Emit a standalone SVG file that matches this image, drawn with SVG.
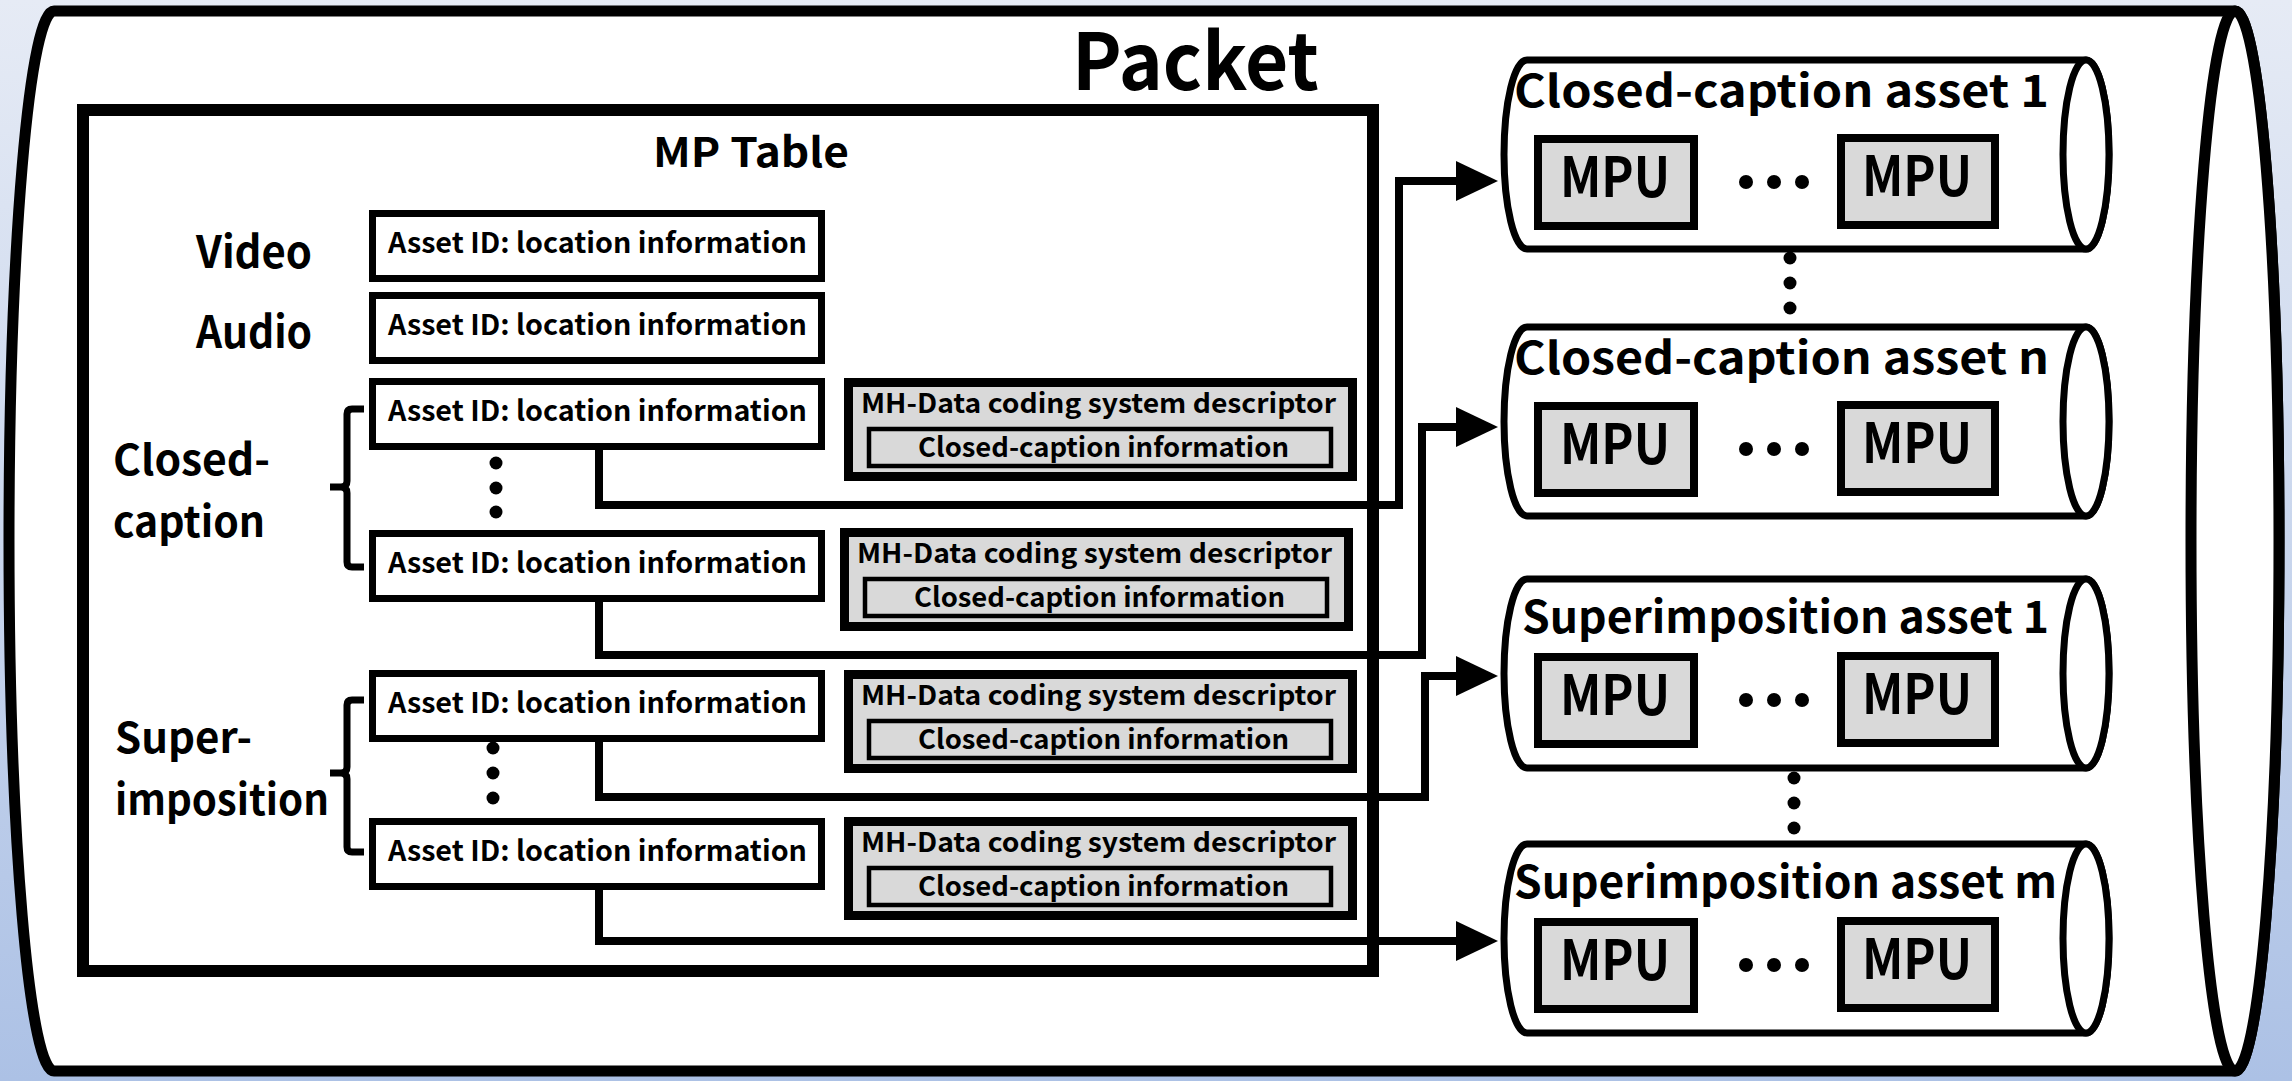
<svg xmlns="http://www.w3.org/2000/svg" width="2292" height="1081" viewBox="0 0 2292 1081">
  <defs>
    <linearGradient id="bg" x1="0" y1="0" x2="0" y2="1">
      <stop offset="0" stop-color="#e6ebf5"/>
      <stop offset="1" stop-color="#acc1e5"/>
    </linearGradient>
    <style>
      .t { font-family: 'Noto Sans CJK JP', 'Noto Sans', sans-serif; font-weight: 700; fill: #000; }
      .asset { fill: #fff; stroke: #000; stroke-width: 7; }
      .desc { fill: #d9d9d9; stroke: #000; stroke-width: 9; }
      .desc-in { fill: #d9d9d9; stroke: #000; stroke-width: 4.5; }
      .cyl { fill: #fff; stroke: #000; stroke-width: 7; }
      .mpu { fill: #d9d9d9; stroke: #000; stroke-width: 8; }
      .brace { fill: none; stroke: #000; stroke-width: 7; stroke-linejoin: miter; }
      .wire { fill: none; stroke: #000; stroke-width: 8; stroke-linejoin: miter; stroke-linecap: butt; }
      .dot { fill: #000; }
    </style>
  </defs>

  <!-- backdrop -->
  <rect x="0" y="0" width="2292" height="1081" fill="url(#bg)"/>

  <!-- Packet: horizontal can shape -->
  <g id="packet">
    <path d="M54,11 H2235 A44,530 0 0 1 2235,1071 H54 A45,530 0 0 1 54,11 Z" fill="#fff" stroke="#000" stroke-width="11"/>
    <ellipse cx="2235" cy="541" rx="44" ry="530" fill="#fff" stroke="#000" stroke-width="11"/>
    <text class="t" x="1072" y="90" font-size="78" textLength="247" lengthAdjust="spacingAndGlyphs">Packet</text>
  </g>

  <!-- MP Table frame -->
  <g id="mp-table">
    <rect x="83" y="110" width="1290" height="861" fill="none" stroke="#000" stroke-width="12"/>
    <text class="t" x="653" y="167" font-size="41" textLength="196" lengthAdjust="spacingAndGlyphs">MP Table</text>
  </g>

  <!-- row labels -->
  <g id="labels">
    <text class="t" x="196" y="268" font-size="44" textLength="116" lengthAdjust="spacingAndGlyphs">Video</text>
    <text class="t" x="196" y="348" font-size="44" textLength="116" lengthAdjust="spacingAndGlyphs">Audio</text>
    <text class="t" x="113" y="475" font-size="42" textLength="157" lengthAdjust="spacingAndGlyphs">Closed-</text>
    <text class="t" x="113" y="537" font-size="42" textLength="152" lengthAdjust="spacingAndGlyphs">caption</text>
    <text class="t" x="115" y="753" font-size="42" textLength="137" lengthAdjust="spacingAndGlyphs">Super-</text>
    <text class="t" x="115" y="815" font-size="42" textLength="214" lengthAdjust="spacingAndGlyphs">imposition</text>
  </g>

  <!-- braces grouping the closed-caption and superimposition rows -->
  <g id="braces">
    <path class="brace" d="M364,409 H352 Q347,409 347,414 V481 Q347,487 341,487 H330 M341,487 Q347,487 347,493 V562 Q347,567 352,567 H364"/>
    <path class="brace" d="M364,700 H352 Q347,700 347,705 V767 Q347,773 341,773 H330 M341,773 Q347,773 347,779 V847 Q347,852 352,852 H364"/>
  </g>

  <!-- asset location entries -->
  <g id="asset-video" transform="translate(369,210)">
    <rect class="asset" x="3.5" y="3.5" width="449" height="65"/>
    <text class="t" x="19" y="43" font-size="28" textLength="419" lengthAdjust="spacingAndGlyphs">Asset ID: location information</text>
  </g>
  <g id="asset-audio" transform="translate(369,292)">
    <rect class="asset" x="3.5" y="3.5" width="449" height="65"/>
    <text class="t" x="19" y="43" font-size="28" textLength="419" lengthAdjust="spacingAndGlyphs">Asset ID: location information</text>
  </g>
  <g id="asset-cc-1" transform="translate(369,378)">
    <rect class="asset" x="3.5" y="3.5" width="449" height="65"/>
    <text class="t" x="19" y="43" font-size="28" textLength="419" lengthAdjust="spacingAndGlyphs">Asset ID: location information</text>
  </g>
  <g id="asset-cc-n" transform="translate(369,530)">
    <rect class="asset" x="3.5" y="3.5" width="449" height="65"/>
    <text class="t" x="19" y="43" font-size="28" textLength="419" lengthAdjust="spacingAndGlyphs">Asset ID: location information</text>
  </g>
  <g id="asset-si-1" transform="translate(369,670)">
    <rect class="asset" x="3.5" y="3.5" width="449" height="65"/>
    <text class="t" x="19" y="43" font-size="28" textLength="419" lengthAdjust="spacingAndGlyphs">Asset ID: location information</text>
  </g>
  <g id="asset-si-m" transform="translate(369,818)">
    <rect class="asset" x="3.5" y="3.5" width="449" height="65"/>
    <text class="t" x="19" y="43" font-size="28" textLength="419" lengthAdjust="spacingAndGlyphs">Asset ID: location information</text>
  </g>

  <!-- vertical ellipsis dots between entries -->
  <g id="entry-dots">
    <circle class="dot" cx="496" cy="463" r="6.5"/>
    <circle class="dot" cx="496" cy="488" r="6.5"/>
    <circle class="dot" cx="496" cy="512" r="6.5"/>
    <circle class="dot" cx="493" cy="748" r="6.5"/>
    <circle class="dot" cx="493" cy="773" r="6.5"/>
    <circle class="dot" cx="493" cy="798" r="6.5"/>
  </g>

  <!-- data coding system descriptors -->
  <g id="desc-cc-1" transform="translate(844,378)">
    <rect class="desc" x="4.5" y="4.5" width="504" height="94"/>
    <rect class="desc-in" x="25" y="51" width="462" height="37"/>
    <text class="t" x="17" y="35" font-size="27" textLength="475" lengthAdjust="spacingAndGlyphs">MH-Data coding system descriptor</text>
    <text class="t" x="74" y="79" font-size="27" textLength="371" lengthAdjust="spacingAndGlyphs">Closed-caption information</text>
  </g>
  <g id="desc-cc-n" transform="translate(840,528)">
    <rect class="desc" x="4.5" y="4.5" width="504" height="94"/>
    <rect class="desc-in" x="25" y="51" width="462" height="37"/>
    <text class="t" x="17" y="35" font-size="27" textLength="475" lengthAdjust="spacingAndGlyphs">MH-Data coding system descriptor</text>
    <text class="t" x="74" y="79" font-size="27" textLength="371" lengthAdjust="spacingAndGlyphs">Closed-caption information</text>
  </g>
  <g id="desc-si-1" transform="translate(844,670)">
    <rect class="desc" x="4.5" y="4.5" width="504" height="94"/>
    <rect class="desc-in" x="25" y="51" width="462" height="37"/>
    <text class="t" x="17" y="35" font-size="27" textLength="475" lengthAdjust="spacingAndGlyphs">MH-Data coding system descriptor</text>
    <text class="t" x="74" y="79" font-size="27" textLength="371" lengthAdjust="spacingAndGlyphs">Closed-caption information</text>
  </g>
  <g id="desc-si-m" transform="translate(844,817)">
    <rect class="desc" x="4.5" y="4.5" width="504" height="94"/>
    <rect class="desc-in" x="25" y="51" width="462" height="37"/>
    <text class="t" x="17" y="35" font-size="27" textLength="475" lengthAdjust="spacingAndGlyphs">MH-Data coding system descriptor</text>
    <text class="t" x="74" y="79" font-size="27" textLength="371" lengthAdjust="spacingAndGlyphs">Closed-caption information</text>
  </g>

  <!-- asset streams (horizontal cans holding MPUs) -->
  <g id="stream-cc-1" transform="translate(0,60)">
    <path class="cyl" d="M1527,0 H2086 A23,94.5 0 0 1 2086,189 H1527 A23,94.5 0 0 1 1527,0 Z"/>
    <ellipse class="cyl" cx="2086" cy="94.5" rx="23" ry="94.5"/>
    <text class="t" x="1514" y="47" font-size="44" textLength="535" lengthAdjust="spacingAndGlyphs">Closed-caption asset 1</text>
    <rect class="mpu" x="1538" y="79" width="156" height="87"/>
    <rect class="mpu" x="1841" y="78" width="154" height="87"/>
    <text class="t" x="1560" y="137" font-size="56" textLength="110" lengthAdjust="spacingAndGlyphs">MPU</text>
    <text class="t" x="1862" y="136" font-size="56" textLength="110" lengthAdjust="spacingAndGlyphs">MPU</text>
    <circle class="dot" cx="1746" cy="122" r="7"/>
    <circle class="dot" cx="1774" cy="122" r="7"/>
    <circle class="dot" cx="1802" cy="122" r="7"/>
  </g>
  <g id="stream-cc-n" transform="translate(0,327)">
    <path class="cyl" d="M1527,0 H2086 A23,94.5 0 0 1 2086,189 H1527 A23,94.5 0 0 1 1527,0 Z"/>
    <ellipse class="cyl" cx="2086" cy="94.5" rx="23" ry="94.5"/>
    <text class="t" x="1514" y="47" font-size="44" textLength="535" lengthAdjust="spacingAndGlyphs">Closed-caption asset n</text>
    <rect class="mpu" x="1538" y="79" width="156" height="87"/>
    <rect class="mpu" x="1841" y="78" width="154" height="87"/>
    <text class="t" x="1560" y="137" font-size="56" textLength="110" lengthAdjust="spacingAndGlyphs">MPU</text>
    <text class="t" x="1862" y="136" font-size="56" textLength="110" lengthAdjust="spacingAndGlyphs">MPU</text>
    <circle class="dot" cx="1746" cy="122" r="7"/>
    <circle class="dot" cx="1774" cy="122" r="7"/>
    <circle class="dot" cx="1802" cy="122" r="7"/>
  </g>
  <g id="stream-si-1" transform="translate(0,579)">
    <path class="cyl" d="M1527,0 H2086 A23,94.5 0 0 1 2086,189 H1527 A23,94.5 0 0 1 1527,0 Z"/>
    <ellipse class="cyl" cx="2086" cy="94.5" rx="23" ry="94.5"/>
    <text class="t" x="1522" y="54" font-size="44" textLength="527" lengthAdjust="spacingAndGlyphs">Superimposition asset 1</text>
    <rect class="mpu" x="1538" y="78" width="156" height="87"/>
    <rect class="mpu" x="1841" y="77" width="154" height="87"/>
    <text class="t" x="1560" y="136" font-size="56" textLength="110" lengthAdjust="spacingAndGlyphs">MPU</text>
    <text class="t" x="1862" y="135" font-size="56" textLength="110" lengthAdjust="spacingAndGlyphs">MPU</text>
    <circle class="dot" cx="1746" cy="121" r="7"/>
    <circle class="dot" cx="1774" cy="121" r="7"/>
    <circle class="dot" cx="1802" cy="121" r="7"/>
  </g>
  <g id="stream-si-m" transform="translate(0,844)">
    <path class="cyl" d="M1527,0 H2086 A23,94.5 0 0 1 2086,189 H1527 A23,94.5 0 0 1 1527,0 Z"/>
    <ellipse class="cyl" cx="2086" cy="94.5" rx="23" ry="94.5"/>
    <text class="t" x="1514" y="54" font-size="44" textLength="543" lengthAdjust="spacingAndGlyphs">Superimposition asset m</text>
    <rect class="mpu" x="1538" y="78" width="156" height="87"/>
    <rect class="mpu" x="1841" y="77" width="154" height="87"/>
    <text class="t" x="1560" y="136" font-size="56" textLength="110" lengthAdjust="spacingAndGlyphs">MPU</text>
    <text class="t" x="1862" y="135" font-size="56" textLength="110" lengthAdjust="spacingAndGlyphs">MPU</text>
    <circle class="dot" cx="1746" cy="121" r="7"/>
    <circle class="dot" cx="1774" cy="121" r="7"/>
    <circle class="dot" cx="1802" cy="121" r="7"/>
  </g>

  <!-- vertical ellipsis dots between streams -->
  <g id="stream-dots">
    <circle class="dot" cx="1790" cy="258" r="6.5"/>
    <circle class="dot" cx="1790" cy="283" r="6.5"/>
    <circle class="dot" cx="1790" cy="308" r="6.5"/>
    <circle class="dot" cx="1794" cy="778" r="6.5"/>
    <circle class="dot" cx="1794" cy="803" r="6.5"/>
    <circle class="dot" cx="1794" cy="828" r="6.5"/>
  </g>

  <!-- connectors: location entries to asset streams -->
  <g id="connectors">
    <path class="wire" d="M599,447 V505 H1399 V181 H1460"/>
    <path class="wire" d="M599,597 V655 H1422 V427 H1460"/>
    <path class="wire" d="M599,739 V797 H1425 V676 H1460"/>
    <path class="wire" d="M599,886 V941 H1460"/>
    <polygon points="1456,161 1498,181 1456,201"/>
    <polygon points="1456,407 1498,427 1456,447"/>
    <polygon points="1456,656 1498,676 1456,696"/>
    <polygon points="1456,921 1498,941 1456,961"/>
  </g>
</svg>
